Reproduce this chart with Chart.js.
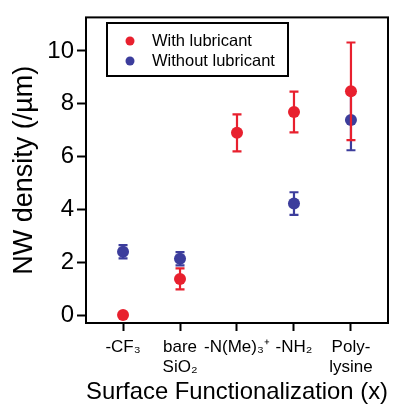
<!DOCTYPE html>
<html><head><meta charset="utf-8">
<script src="https://cdn.jsdelivr.net/npm/chart.js@4/dist/chart.umd.min.js"></script>
<style>html,body{margin:0;padding:0;background:#fff}#wrap{width:397px;height:407px}</style>
</head><body><div id="wrap"><canvas id="c"></canvas></div>
<script>
const categories = ['-CF₃', ['bare', 'SiO₂'], '-N(Me)₃⁺', '-NH₂', ['Poly-', 'lysine']];
const withLubricant = [0, 1.37, 6.9, 7.69, 8.47];
const withLubricantErr = [0, 0.4, 0.7, 0.77, 1.85];
const withoutLubricant = [2.4, 2.13, null, 4.22, 7.39];
const withoutLubricantErr = [0.25, 0.25, null, 0.43, 1.15];
const yTicks = [0, 2, 4, 6, 8, 10];
const seriesNames = ['With lubricant', 'Without lubricant'];

const RED = '#e8202e', BLUE = '#3c3d9c';
const FONT = "'Liberation Sans', Arial, sans-serif";

function pts(vals, errs) {
  const out = [];
  vals.forEach((v, i) => { if (v !== null) out.push({x: i, y: v, e: errs[i]}); });
  return out;
}

const errorBars = {
  id: 'errorBars',
  beforeDatasetDraw(chart, args) {
    const ds = chart.data.datasets[args.index];
    const xs = chart.scales.x, ys = chart.scales.y, ctx = chart.ctx;
    ctx.save();
    ctx.strokeStyle = ds.backgroundColor; ctx.lineWidth = 2.2;
    ds.data.forEach(p => {
      if (!p.e) return;
      const x = xs.getPixelForValue(p.x);
      const t = ys.getPixelForValue(p.y + p.e), b = ys.getPixelForValue(p.y - p.e);
      ctx.beginPath();
      ctx.moveTo(x, t); ctx.lineTo(x, b);
      ctx.moveTo(x - 4.5, t); ctx.lineTo(x + 4.5, t);
      ctx.moveTo(x - 4.5, b); ctx.lineTo(x + 4.5, b);
      ctx.stroke();
    });
    ctx.restore();
  }
};

const frame = {
  id: 'frame',
  afterDraw(chart) {
    const a = chart.chartArea, ctx = chart.ctx;
    ctx.save();
    ctx.strokeStyle = '#000'; ctx.lineWidth = 2;
    ctx.strokeRect(a.left, a.top, a.right - a.left, a.bottom - a.top);
    // legend box
    const lx = 107, ly = 23, lw = 181, lh = 53;
    ctx.fillStyle = '#fff';
    ctx.fillRect(lx, ly, lw, lh);
    ctx.strokeRect(lx, ly, lw, lh);
    ctx.font = '16.5px ' + FONT;
    ctx.textBaseline = 'middle';
    chart.data.datasets.forEach((ds, i) => {
      const y = 41 + i * 20;
      ctx.fillStyle = ds.backgroundColor;
      ctx.beginPath(); ctx.arc(130, y, 4.5, 0, Math.PI * 2); ctx.fill();
      ctx.fillStyle = '#000';
      ctx.fillText(ds.label, 152, y);
    });
    ctx.restore();
  }
};

new Chart(document.getElementById('c'), {
  type: 'scatter',
  data: {
    datasets: [
      {label: seriesNames[0], data: pts(withLubricant, withLubricantErr), backgroundColor: RED, borderColor: RED, pointRadius: 6, pointHoverRadius: 6, borderWidth: 0},
      {label: seriesNames[1], data: pts(withoutLubricant, withoutLubricantErr), backgroundColor: BLUE, borderColor: BLUE, pointRadius: 6, pointHoverRadius: 6, borderWidth: 0}
    ]
  },
  plugins: [errorBars, frame],
  options: {
    responsive: true, maintainAspectRatio: false, animation: false,
    layout: {padding: {top: 13, right: 9, left: 0, bottom: 0}},
    plugins: {legend: {display: false}, tooltip: {enabled: false}},
    scales: {
      x: {
        type: 'linear', min: -0.65, max: 4.65,
        afterBuildTicks: s => { s.ticks = categories.map((c, i) => ({value: i})); },
        afterFit: s => { s.height = 84; },
        ticks: {callback: v => categories[v], color: '#000', font: {family: FONT, size: 17, lineHeight: 1.2}, padding: 6, maxRotation: 0, autoSkip: false},
        grid: {display: true, drawOnChartArea: false, drawTicks: true, tickLength: 8, tickColor: '#000', tickWidth: 2},
        border: {display: false},
        title: {display: true, text: 'Surface Functionalization (x)', color: '#000', font: {family: FONT, size: 24}, padding: {top: 0, bottom: 0}}
      },
      y: {
        min: -0.3, max: 11.27,
        afterBuildTicks: s => { s.ticks = yTicks.map(v => ({value: v})); },
        afterFit: s => { s.width = 86; },
        ticks: {color: '#000', font: {family: FONT, size: 24}, padding: 3},
        grid: {display: true, drawOnChartArea: false, drawTicks: true, tickLength: 9, tickColor: '#000', tickWidth: 2},
        border: {display: false},
        title: {display: true, text: 'NW density (/µm)', color: '#000', font: {family: FONT, size: 27}, padding: {top: 8, bottom: 0}}
      }
    }
  }
});
</script>
</body></html>
